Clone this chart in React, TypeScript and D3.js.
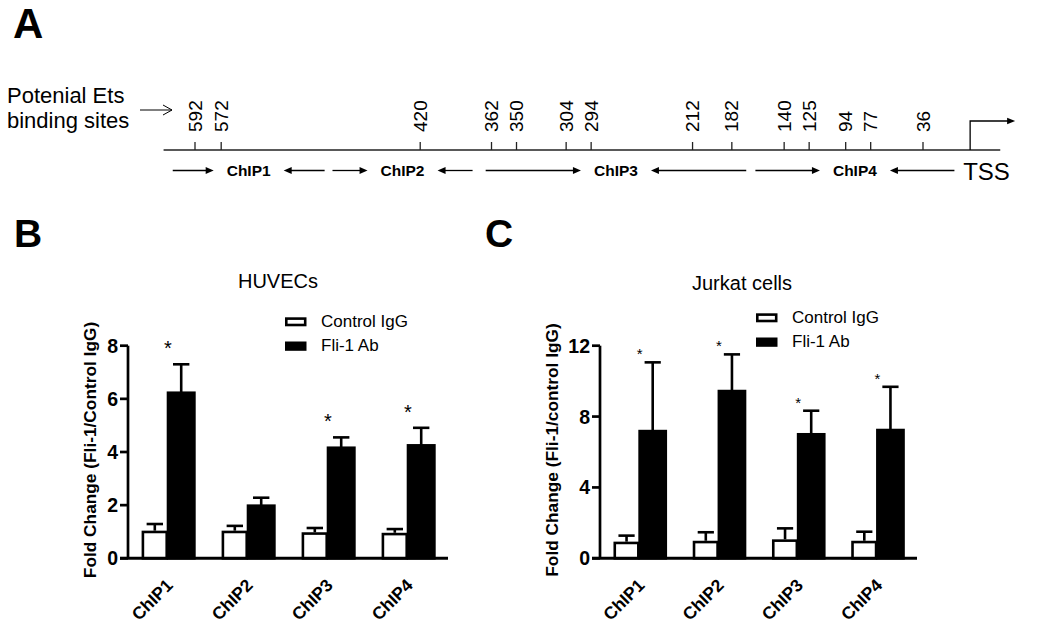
import React from "react";
import * as d3 from "d3";

// ---------- Data ----------
const categories = ["ChIP1", "ChIP2", "ChIP3", "ChIP4"];
const seriesNames = ["Control IgG", "Fli-1 Ab"];

const huvecControl = [1.04, 1.04, 0.98, 0.96];
const huvecControlErr = [0.25, 0.18, 0.16, 0.14];
const huvecFli = [6.23, 1.98, 4.16, 4.25];
const huvecFliErr = [1.07, 0.3, 0.39, 0.66];
const huvecSig = [true, false, true, true];
const huvecTicks = [0, 2, 4, 6, 8];

const jurkatControl = [0.94, 0.99, 1.07, 0.99];
const jurkatControlErr = [0.34, 0.48, 0.62, 0.51];
const jurkatFli = [7.18, 9.44, 7.0, 7.24];
const jurkatFliErr = [3.88, 2.07, 1.33, 2.44];
const jurkatSig = [true, true, true, true];
const jurkatTicks = [0, 4, 8, 12];

const etsSites = [592, 572, 420, 362, 350, 304, 294, 212, 182, 140, 125, 94, 77, 36];
const ampliconNames = ["ChIP1", "ChIP2", "ChIP3", "ChIP4"];
const ampliconStart = [609, 487, 370, 164];
const ampliconEnd = [493, 380, 171, 12];
const promoterExtent = [616, -23];
const tssPosition = 0;

const FONT = "'Liberation Sans', Arial, Helvetica, sans-serif";

// spread close schematic positions apart (schematic, not to scale)
function dodge(pos: number[], minGap: number) {
  const p = pos.slice();
  for (let it = 0; it < 30; it++) {
    for (let i = 1; i < p.length; i++) {
      const g = p[i] - p[i - 1];
      if (g < minGap) {
        const d = (minGap - g) / 2;
        p[i - 1] -= d;
        p[i] += d;
      }
    }
  }
  return p;
}

// ---------- Panel A ----------
function arrowHead(tipX: number, tipY: number, dir: number, len = 8, half = 3.6) {
  return `M${tipX},${tipY} L${tipX - dir * len},${tipY - half} L${tipX - dir * len},${tipY + half} Z`;
}

function PanelA() {
  const x = d3.scaleLinear().domain([592, 36]).range([195, 923]);
  const lineY = 150;
  const arrowY = 170.5;
  const gap = 35;
  const tssX = x(tssPosition);
  const sitePos = dodge(etsSites.map((s) => x(s)), 25);
  return (
    <g fontFamily={FONT}>
      <text x={13} y={38} fontSize={42} fontWeight="bold">A</text>
      <text x={7} y={103} fontSize={22}>Potenial Ets</text>
      <text x={7} y={128} fontSize={22}>binding sites</text>
      {/* pointer arrow */}
      <line x1={140} y1={110} x2={172} y2={110} stroke="#000" strokeWidth={1} />
      <polyline points="163,105 172,110 163,115" fill="none" stroke="#000" strokeWidth={1} />
      {/* promoter line */}
      <line x1={x(promoterExtent[0])} y1={lineY} x2={x(promoterExtent[1])} y2={lineY} stroke="#222" strokeWidth={1.5} />
      {etsSites.map((s, i) => (
        <g key={s}>
          <line x1={sitePos[i]} x2={sitePos[i]} y1={lineY - 8} y2={lineY} stroke="#222" strokeWidth={1.3} />
          <text
            transform={`translate(${sitePos[i]},132) rotate(-90)`}
            dy="0.35em"
            fontSize={19}
            textAnchor="start"
          >
            {s}
          </text>
        </g>
      ))}
      {/* TSS */}
      <path d={`M${tssX},${lineY} L${tssX},121 L${tssX + 38},121`} fill="none" stroke="#000" strokeWidth={1.3} />
      <path d={arrowHead(tssX + 45, 121, 1, 8, 3.2)} fill="#000" />
      <text x={tssX - 7} y={180} fontSize={24}>TSS</text>
      {/* amplicons */}
      {ampliconNames.map((n, i) => {
        const a = x(ampliconStart[i]);
        const b = x(ampliconEnd[i]);
        const mid = (a + b) / 2;
        return (
          <g key={n}>
            <line x1={a} y1={arrowY} x2={mid - gap - 5} y2={arrowY} stroke="#000" strokeWidth={1.3} />
            <path d={arrowHead(mid - gap, arrowY, 1)} fill="#000" />
            <text x={mid} y={176} fontSize={15.5} fontWeight="bold" textAnchor="middle">{n}</text>
            <line x1={b} y1={arrowY} x2={mid + gap + 5} y2={arrowY} stroke="#000" strokeWidth={1.3} />
            <path d={arrowHead(mid + gap, arrowY, -1)} fill="#000" />
          </g>
        );
      })}
    </g>
  );
}

// ---------- Bar panels ----------
type PanelProps = {
  letter: string;
  letterX: number;
  left: number;
  right: number;
  top: number;
  bottom: number;
  yMax: number;
  ticks: number[];
  control: number[];
  controlErr: number[];
  fli: number[];
  fliErr: number[];
  sig: boolean[];
  title: string;
  titleX: number;
  titleY: number;
  yLabel: string;
  yLabelX: number;
  legendX: number;
  legendY: number;
  starSize: number;
  starOffset: number;
};

function BarPanel(p: PanelProps) {
  const y = d3.scaleLinear().domain([0, p.yMax]).range([p.bottom, p.top]);
  const x0 = d3.scaleBand().domain(categories).range([p.left, p.right]).paddingInner(0.34).paddingOuter(0.17);
  const x1 = d3.scaleBand().domain(seriesNames).range([0, x0.bandwidth()]);
  const bw = x1.bandwidth();
  const sw = 2.6;
  const cap = bw * 0.62;
  const series = [
    { name: seriesNames[0], vals: p.control, errs: p.controlErr },
    { name: seriesNames[1], vals: p.fli, errs: p.fliErr },
  ];
  return (
    <g fontFamily={FONT}>
      <text x={p.letterX} y={247} fontSize={39} fontWeight="bold">{p.letter}</text>
      <text x={p.titleX} y={p.titleY} fontSize={20} textAnchor="middle">{p.title}</text>
      {/* legend */}
      <rect x={p.legendX + sw / 2} y={p.legendY + sw / 2} width={21.5 - sw} height={9 - sw} fill="#fff" stroke="#000" strokeWidth={sw} />
      <text x={p.legendX + 36} y={p.legendY + 10} fontSize={17}>{seriesNames[0]}</text>
      <rect x={p.legendX} y={p.legendY + 24.2} width={21.5} height={9.3} fill="#000" />
      <text x={p.legendX + 36} y={p.legendY + 34} fontSize={17}>{seriesNames[1]}</text>
      {/* bars */}
      {categories.map((c, i) => {
        const bx = (x0(c) as number) + (x1(seriesNames[0]) as number);
        const v = p.control[i];
        return (
          <rect
            key={"c" + c}
            x={bx + sw / 2}
            y={y(v) + sw / 2}
            width={bw - sw}
            height={y(0) - y(v) - sw / 2}
            fill="#fff"
            stroke="#000"
            strokeWidth={sw}
          />
        );
      })}
      {categories.map((c, i) => {
        const bx = (x0(c) as number) + (x1(seriesNames[1]) as number);
        const v = p.fli[i];
        return (
          <rect key={"f" + c} x={bx} y={y(v)} width={bw} height={y(0) - y(v)} fill="#000" stroke="#000" strokeWidth={sw} />
        );
      })}
      {/* error bars */}
      {series.map((s) =>
        categories.map((c, i) => {
          const cx = (x0(c) as number) + (x1(s.name) as number) + bw / 2;
          const t = y(s.vals[i] + s.errs[i]);
          return (
            <g key={s.name + c}>
              <line x1={cx} x2={cx} y1={y(s.vals[i])} y2={t} stroke="#000" strokeWidth={sw} />
              <line x1={cx - cap / 2} x2={cx + cap / 2} y1={t} y2={t} stroke="#000" strokeWidth={sw} />
            </g>
          );
        })
      )}
      {/* significance stars */}
      {categories.map((c, i) =>
        p.sig[i] ? (
          <text
            key={"s" + c}
            x={(x0(c) as number) + x0.bandwidth() / 2}
            y={y(p.fli[i] + p.fliErr[i]) - p.starOffset}
            fontSize={p.starSize}
            textAnchor="middle"
          >
            *
          </text>
        ) : null
      )}
      {/* axes */}
      <line x1={p.left} x2={p.left} y1={p.bottom} y2={p.top} stroke="#000" strokeWidth={2.7} />
      {p.ticks.map((t) => (
        <g key={"t" + t}>
          <line x1={p.left - 8} x2={p.left} y1={y(t)} y2={y(t)} stroke="#000" strokeWidth={2.7} />
          <text x={p.left - 10} y={y(t)} dy="0.36em" fontSize={19.5} fontWeight="bold" textAnchor="end">
            {t}
          </text>
        </g>
      ))}
      <line x1={p.left - 8} x2={p.right} y1={p.bottom} y2={p.bottom} stroke="#000" strokeWidth={3} />
      {categories.map((c) => (
        <text
          key={"x" + c}
          transform={`translate(${(x0(c) as number) + x0.bandwidth() / 2 + 6},${p.bottom + 28}) rotate(-45)`}
          fontSize={17.5}
          fontWeight="bold"
          textAnchor="end"
        >
          {c}
        </text>
      ))}
      <text
        transform={`translate(${p.yLabelX},450) rotate(-90)`}
        fontSize={17.3}
        fontWeight="bold"
        textAnchor="middle"
      >
        {p.yLabel}
      </text>
    </g>
  );
}

export default function App() {
  return (
    <svg
      width={1050}
      height={626}
      viewBox="0 0 1050 626"
      style={{ position: "absolute", left: 0, top: 0, background: "#fff" }}
    >
      <rect x={0} y={0} width={1050} height={626} fill="#fff" />
      <PanelA />
      <BarPanel
        letter="B"
        letterX={14}
        left={128}
        right={448}
        top={345.7}
        bottom={558.3}
        yMax={8}
        ticks={huvecTicks}
        control={huvecControl}
        controlErr={huvecControlErr}
        fli={huvecFli}
        fliErr={huvecFliErr}
        sig={huvecSig}
        title="HUVECs"
        titleX={278}
        titleY={288}
        yLabel="Fold Change (Fli-1/Control IgG)"
        yLabelX={95.5}
        legendX={285}
        legendY={317.3}
        starSize={20}
        starOffset={9}
      />
      <BarPanel
        letter="C"
        letterX={485}
        left={600}
        right={917}
        top={345.7}
        bottom={558.3}
        yMax={12}
        ticks={jurkatTicks}
        control={jurkatControl}
        controlErr={jurkatControlErr}
        fli={jurkatFli}
        fliErr={jurkatFliErr}
        sig={jurkatSig}
        title="Jurkat cells"
        titleX={742}
        titleY={290}
        yLabel="Fold Change (Fli-1/control IgG)"
        yLabelX={557.5}
        legendX={756}
        legendY={313.3}
        starSize={15}
        starOffset={3}
      />
    </svg>
  );
}
